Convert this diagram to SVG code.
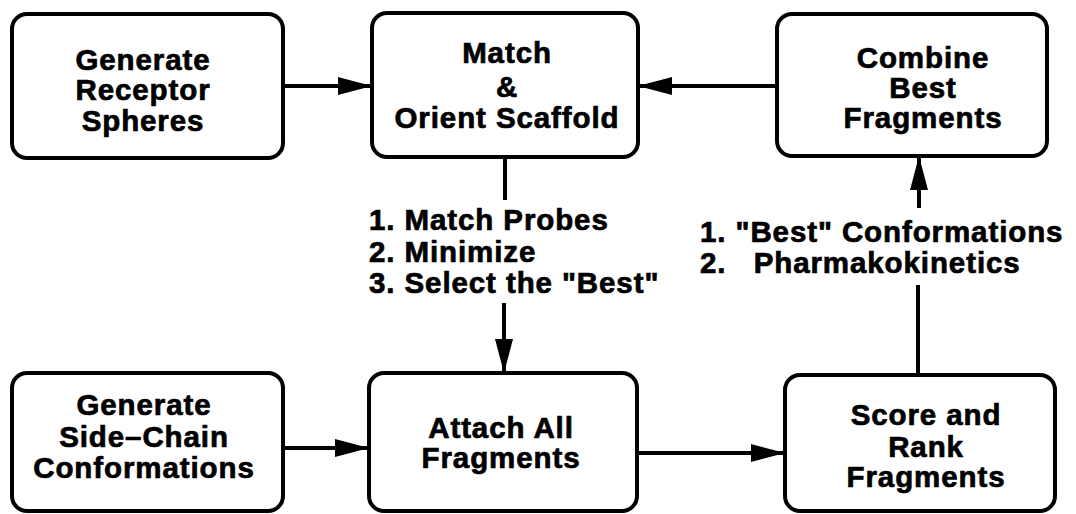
<svg xmlns="http://www.w3.org/2000/svg" width="1076" height="514" viewBox="0 0 1076 514">
<style>
.box{fill:#fff;stroke:#000;stroke-width:4}
.t{font-family:"Liberation Sans",Arial,sans-serif;font-weight:bold;font-size:29.5px;letter-spacing:0.9px;fill:#000;stroke:#000;stroke-width:0.7px;text-anchor:middle}
.l{font-family:"Liberation Sans",Arial,sans-serif;font-weight:bold;font-size:29.5px;letter-spacing:0.9px;fill:#000;stroke:#000;stroke-width:0.7px}
.c{stroke:#000;stroke-width:4;fill:none}
</style>
<defs>
<marker id="ah" viewBox="0 0 34 18" refX="34" refY="9" markerWidth="34" markerHeight="18" markerUnits="userSpaceOnUse" orient="auto">
<path d="M0,0 L34,9 L0,18 Z" fill="#000"/>
</marker>
</defs>
<rect width="1076" height="514" fill="#fff"/>
<g id="connectors">
<line class="c" x1="283" y1="86" x2="372" y2="86" marker-end="url(#ah)"/>
<line class="c" x1="777" y1="86" x2="638" y2="86" marker-end="url(#ah)"/>
<line class="c" x1="505" y1="157" x2="505" y2="200"/>
<line class="c" x1="504" y1="303" x2="504" y2="373" marker-end="url(#ah)"/>
<line class="c" x1="283" y1="448" x2="369" y2="448" marker-end="url(#ah)"/>
<line class="c" x1="637" y1="453" x2="785" y2="453" marker-end="url(#ah)"/>
<line class="c" x1="918" y1="375" x2="918" y2="285"/>
<line class="c" x1="919" y1="208" x2="919" y2="156" marker-end="url(#ah)"/>
<text class="l" x="369" y="230">1. Match Probes</text>
<text class="l" x="369" y="262">2. Minimize</text>
<text class="l" x="369" y="293">3. Select the "Best"</text>
<text class="l" x="700" y="242">1. "Best" Conformations</text>
<text class="l" x="700" y="273" xml:space="preserve">2.   Pharmakokinetics</text>
</g>
<g id="n1">
<rect class="box" x="12" y="14" width="271" height="144" rx="15"/>
<text class="t" x="143" y="70">Generate</text>
<text class="t" x="143" y="100">Receptor</text>
<text class="t" x="143" y="131">Spheres</text>
</g>
<g id="n2">
<rect class="box" x="372" y="13" width="266" height="144" rx="15"/>
<text class="t" x="507" y="63">Match</text>
<text class="t" x="507" y="97">&amp;</text>
<text class="t" x="507" y="128">Orient Scaffold</text>
</g>
<g id="n3">
<rect class="box" x="777" y="14" width="270" height="142" rx="15"/>
<text class="t" x="923" y="68">Combine</text>
<text class="t" x="923" y="98">Best</text>
<text class="t" x="923" y="128">Fragments</text>
</g>
<g id="n4">
<rect class="box" x="12" y="373" width="271" height="138" rx="15"/>
<text class="t" x="144" y="415">Generate</text>
<text class="t" x="144" y="447">Side–Chain</text>
<text class="t" x="144" y="478">Conformations</text>
</g>
<g id="n5">
<rect class="box" x="369" y="373" width="268" height="138" rx="15"/>
<text class="t" x="501" y="438">Attach All</text>
<text class="t" x="501" y="468">Fragments</text>
</g>
<g id="n6">
<rect class="box" x="785" y="375" width="270" height="136" rx="15"/>
<text class="t" x="926" y="425">Score and</text>
<text class="t" x="926" y="457">Rank</text>
<text class="t" x="926" y="487">Fragments</text>
</g>
</svg>
